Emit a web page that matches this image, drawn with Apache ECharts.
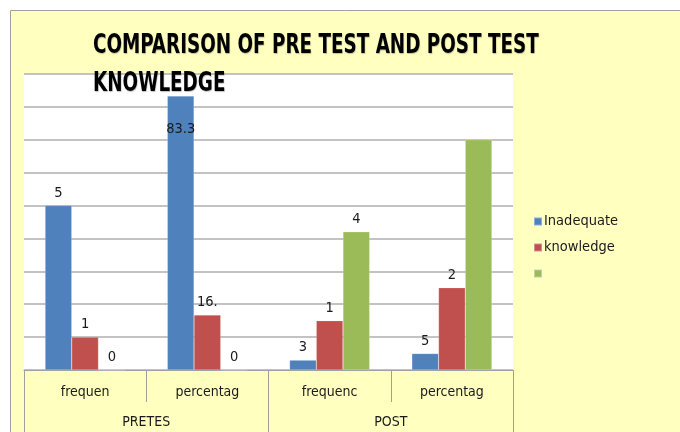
<!DOCTYPE html>
<html><head><meta charset="utf-8">
<script src="https://cdn.jsdelivr.net/npm/echarts@6/dist/echarts.min.js"></script>
<style>html,body{margin:0;padding:0;background:#fff}#c{width:680px;height:432px}</style>
</head><body><div id="c"></div>
<script>
const categories = ['frequen', 'percentag', 'frequenc', 'percentag'];
const groups = ['PRETES', 'POST'];
const seriesNames = ['Inadequate', 'knowledge', ' '];
const inadequate = [50, 83.3, 3, 5];
const moderate = [10, 16.7, 15, 25];
const adequate = [0, 0, 42, 70];
const inadequateLabels = ['5', '83.3', '3', '5'];
const moderateLabels = ['1', '16.', '1', '2'];
const adequateLabels = ['0', '0', '4', ''];
const titleLines = ['COMPARISON OF PRE TEST AND POST TEST', 'KNOWLEDGE'];

const FONT = "'DejaVu Sans Condensed', 'Liberation Sans Narrow', sans-serif";
const colors = ['#4F81BD', '#C0504D', '#9BBB59'];

function mkSeries(name, vals, labs, color) {
  return {
    name: name, type: 'bar', barGap: '0%', barCategoryGap: '34.5%',
    itemStyle: { color: color, borderColor: 'rgba(255,255,255,0.35)', borderWidth: 0.5 },
    data: vals.map((v, i) => {
      const d = { value: v, label: { formatter: labs[i] } };
      if (name === 'Inadequate' && i === 1) {
        d.label = { formatter: labs[i], position: 'insideTop', distance: 26 };
      }
      return d;
    }),
    label: { show: true, position: 'top', distance: 5, color: '#1a1a1a', fontSize: 14.5, fontFamily: FONT }
  };
}

const chart = echarts.init(document.getElementById('c'), null, { renderer: 'canvas' });
chart.setOption({
  animation: false,
  backgroundColor: '#ffffff',
  graphic: [
    { type: 'rect', z: -10, shape: { x: 10.5, y: 10.5, width: 700, height: 450 },
      style: { fill: '#FFFFC0', stroke: '#A0A0A0', lineWidth: 1 } },
    { type: 'text', x: 93, y: 46, scaleX: 0.755, z: 100,
      style: { text: titleLines[0], font: "bold 27px " + FONT, fill: '#000', verticalAlign: 'middle',
        textShadowColor: 'rgba(0,0,0,0.25)', textShadowBlur: 1, textShadowOffsetX: 0.5, textShadowOffsetY: 0.5 } },
    { type: 'text', x: 93, y: 84, scaleX: 0.755, z: 100,
      style: { text: titleLines[1], font: "bold 27px " + FONT, fill: '#000', verticalAlign: 'middle',
        textShadowColor: 'rgba(0,0,0,0.25)', textShadowBlur: 1, textShadowOffsetX: 0.5, textShadowOffsetY: 0.5 } }
  ],
  legend: {
    orient: 'vertical', left: 528, top: 209, itemWidth: 8, itemHeight: 8, itemGap: 11,
    icon: 'rect', data: seriesNames,
    textStyle: { fontSize: 14.5, fontFamily: FONT, color: '#1a1a1a', padding: [0, 0, 0, -3] }
  },
  grid: { left: 24, right: 167, top: 74, bottom: 62, show: true, backgroundColor: '#ffffff', borderWidth: 0 },
  xAxis: [
    { type: 'category', data: categories, position: 'bottom',
      axisLine: { show: true, lineStyle: { color: '#A0A0A0', width: 1 } },
      axisTick: { show: true, length: 32, interval: 0, lineStyle: { color: '#A0A0A0' } },
      axisLabel: { interval: 0, margin: 15, fontSize: 14, fontFamily: FONT, color: '#1a1a1a' } },
    { type: 'category', data: groups, position: 'bottom',
      axisLine: { show: false },
      axisTick: { show: true, length: 64, interval: 0, lineStyle: { color: '#A0A0A0' } },
      axisLabel: { interval: 0, margin: 45, fontSize: 14, fontFamily: FONT, color: '#1a1a1a' } }
  ],
  yAxis: { type: 'value', min: 0, max: 90, interval: 10,
    axisLabel: { show: false }, axisLine: { show: false }, axisTick: { show: false },
    splitLine: { show: true, lineStyle: { color: '#AFAFAF', width: 1.5 } } },
  series: [
    mkSeries(seriesNames[0], inadequate, inadequateLabels, colors[0]),
    mkSeries(seriesNames[1], moderate, moderateLabels, colors[1]),
    mkSeries(seriesNames[2], adequate, adequateLabels, colors[2])
  ]
});
</script></body></html>
